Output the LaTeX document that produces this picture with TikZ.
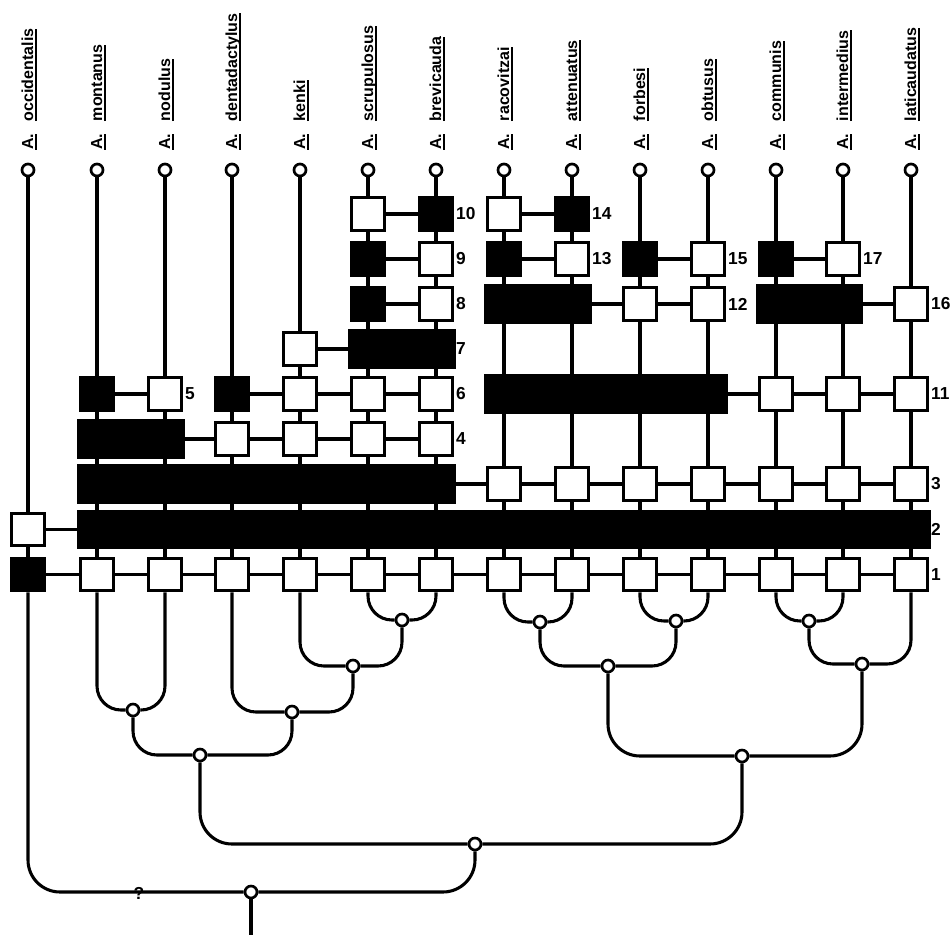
\documentclass[tikz,border=0pt]{standalone}
\usepackage{fontspec}
\setmainfont{Liberation Sans}

\newcommand{\ulbox}[1]{\setbox0=\hbox{#1}\rlap{\rule[-2.7pt]{\wd0}{1.4pt}}\box0}
\newcommand{\taxon}[1]{\ulbox{A.}\hspace{9.5pt}\ulbox{#1}}

\tikzset{
  taxlabel/.style={rotate=90, anchor=base west, inner sep=0pt, font=\bfseries\fontsize{12}{14}\selectfont},
  tip/.style={circle, draw, fill=white, line width=2pt, minimum size=9pt, inner sep=0pt},
  junction/.style={circle, draw, fill=white, line width=2pt, minimum size=9pt, inner sep=0pt},
  open/.style={rectangle, draw, fill=white, line width=2.4pt, minimum size=24.5pt, inner sep=0pt},
  shut/.style={open, fill=black},
  bar/.style={draw, fill=black, line width=2.4pt},
  charno/.style={anchor=west, inner sep=1.5pt, font=\bfseries\fontsize{13}{15}\selectfont},
  link/.style={line width=2.3pt},
  branch/.style={line width=2.3pt, rounded corners=18pt},
  bigbranch/.style={line width=2.3pt, rounded corners=24pt},
}

\begin{document}
\begin{tikzpicture}[x=0.75pt, y=-0.75pt]
        \useasboundingbox (0,0) rectangle (952,935);
        % species names and tips
        \node[taxlabel] (lbocc) at (33,150) {\taxon{occidentalis}};
        \node[taxlabel] (lbmon) at (102,150) {\taxon{montanus}};
        \node[taxlabel] (lbnod) at (170,150) {\taxon{nodulus}};
        \node[taxlabel] (lbden) at (237,150) {\taxon{dentadactylus}};
        \node[taxlabel] (lbken) at (305,150) {\taxon{kenki}};
        \node[taxlabel] (lbscr) at (373,150) {\taxon{scrupulosus}};
        \node[taxlabel] (lbbre) at (441,150) {\taxon{brevicauda}};
        \node[taxlabel] (lbrac) at (509,150) {\taxon{racovitzai}};
        \node[taxlabel] (lbatt) at (577,150) {\taxon{attenuatus}};
        \node[taxlabel] (lbforb) at (645,150) {\taxon{forbesi}};
        \node[taxlabel] (lbobt) at (713,150) {\taxon{obtusus}};
        \node[taxlabel] (lbcom) at (781,150) {\taxon{communis}};
        \node[taxlabel] (lbint) at (848,150) {\taxon{intermedius}};
        \node[taxlabel] (lblat) at (916,150) {\taxon{laticaudatus}};
        \node[tip] (tocc) at (28,170) {};
        \node[tip] (tmon) at (97,170) {};
        \node[tip] (tnod) at (165,170) {};
        \node[tip] (tden) at (232,170) {};
        \node[tip] (tken) at (300,170) {};
        \node[tip] (tscr) at (368,170) {};
        \node[tip] (tbre) at (436,170) {};
        \node[tip] (trac) at (504,170) {};
        \node[tip] (tatt) at (572,170) {};
        \node[tip] (tforb) at (640,170) {};
        \node[tip] (tobt) at (708,170) {};
        \node[tip] (tcom) at (776,170) {};
        \node[tip] (tint) at (843,170) {};
        \node[tip] (tlat) at (911,170) {};
        % character states
        \node[open] (occ2) at (28,529.5) {};
        \node[shut] (occ1) at (28,574.5) {};
        \node[shut] (mon5) at (97,394) {};
        \node[shut] (mon4) at (97,439) {};
        \node[shut] (mon3) at (97,484) {};
        \node[shut] (mon2) at (97,529.5) {};
        \node[open] (mon1) at (97,574.5) {};
        \node[open] (nod5) at (165,394) {};
        \node[shut] (nod4) at (165,439) {};
        \node[shut] (nod3) at (165,484) {};
        \node[shut] (nod2) at (165,529.5) {};
        \node[open] (nod1) at (165,574.5) {};
        \node[shut] (den6) at (232,394) {};
        \node[open] (den4) at (232,439) {};
        \node[shut] (den3) at (232,484) {};
        \node[shut] (den2) at (232,529.5) {};
        \node[open] (den1) at (232,574.5) {};
        \node[open] (ken7) at (300,349) {};
        \node[open] (ken6) at (300,394) {};
        \node[open] (ken4) at (300,439) {};
        \node[shut] (ken3) at (300,484) {};
        \node[shut] (ken2) at (300,529.5) {};
        \node[open] (ken1) at (300,574.5) {};
        \node[open] (scr10) at (368,214) {};
        \node[shut] (scr9) at (368,259) {};
        \node[shut] (scr8) at (368,304) {};
        \node[shut] (scr7) at (368,349) {};
        \node[open] (scr6) at (368,394) {};
        \node[open] (scr4) at (368,439) {};
        \node[shut] (scr3) at (368,484) {};
        \node[shut] (scr2) at (368,529.5) {};
        \node[open] (scr1) at (368,574.5) {};
        \node[shut] (bre10) at (436,214) {};
        \node[open] (bre9) at (436,259) {};
        \node[open] (bre8) at (436,304) {};
        \node[shut] (bre7) at (436,349) {};
        \node[open] (bre6) at (436,394) {};
        \node[open] (bre4) at (436,439) {};
        \node[shut] (bre3) at (436,484) {};
        \node[shut] (bre2) at (436,529.5) {};
        \node[open] (bre1) at (436,574.5) {};
        \node[open] (rac14) at (504,214) {};
        \node[shut] (rac13) at (504,259) {};
        \node[shut] (rac12) at (504,304) {};
        \node[shut] (rac11) at (504,394) {};
        \node[open] (rac3) at (504,484) {};
        \node[shut] (rac2) at (504,529.5) {};
        \node[open] (rac1) at (504,574.5) {};
        \node[shut] (att14) at (572,214) {};
        \node[open] (att13) at (572,259) {};
        \node[shut] (att12) at (572,304) {};
        \node[shut] (att11) at (572,394) {};
        \node[open] (att3) at (572,484) {};
        \node[shut] (att2) at (572,529.5) {};
        \node[open] (att1) at (572,574.5) {};
        \node[shut] (forb15) at (640,259) {};
        \node[open] (forb12) at (640,304) {};
        \node[shut] (forb11) at (640,394) {};
        \node[open] (forb3) at (640,484) {};
        \node[shut] (forb2) at (640,529.5) {};
        \node[open] (forb1) at (640,574.5) {};
        \node[open] (obt15) at (708,259) {};
        \node[open] (obt12) at (708,304) {};
        \node[shut] (obt11) at (708,394) {};
        \node[open] (obt3) at (708,484) {};
        \node[shut] (obt2) at (708,529.5) {};
        \node[open] (obt1) at (708,574.5) {};
        \node[shut] (com17) at (776,259) {};
        \node[shut] (com16) at (776,304) {};
        \node[open] (com11) at (776,394) {};
        \node[open] (com3) at (776,484) {};
        \node[shut] (com2) at (776,529.5) {};
        \node[open] (com1) at (776,574.5) {};
        \node[open] (int17) at (843,259) {};
        \node[shut] (int16) at (843,304) {};
        \node[open] (int11) at (843,394) {};
        \node[open] (int3) at (843,484) {};
        \node[shut] (int2) at (843,529.5) {};
        \node[open] (int1) at (843,574.5) {};
        \node[open] (lat16) at (911,304) {};
        \node[open] (lat11) at (911,394) {};
        \node[open] (lat3) at (911,484) {};
        \node[shut] (lat2) at (911,529.5) {};
        \node[open] (lat1) at (911,574.5) {};
        % shared derived states
        \draw[bar] (mon2.north west) rectangle (lat2.south east);
        \draw[bar] (mon3.north west) rectangle (bre3.south east);
        \draw[bar] (mon4.north west) rectangle (nod4.south east);
        \draw[bar] (scr7.north west) rectangle (bre7.south east);
        \draw[bar] (rac11.north west) rectangle (obt11.south east);
        \draw[bar] (rac12.north west) rectangle (att12.south east);
        \draw[bar] (com16.north west) rectangle (int16.south east);
        % lineages
        \draw[link] (tocc) -- (occ2) -- (occ1);
        \draw[link] (tmon) -- (mon5) -- (mon4) -- (mon3) -- (mon2) -- (mon1);
        \draw[link] (tnod) -- (nod5) -- (nod4) -- (nod3) -- (nod2) -- (nod1);
        \draw[link] (tden) -- (den6) -- (den4) -- (den3) -- (den2) -- (den1);
        \draw[link] (tken) -- (ken7) -- (ken6) -- (ken4) -- (ken3) -- (ken2) -- (ken1);
        \draw[link] (tscr) -- (scr10) -- (scr9) -- (scr8) -- (scr7) -- (scr6) -- (scr4) -- (scr3) -- (scr2) -- (scr1);
        \draw[link] (tbre) -- (bre10) -- (bre9) -- (bre8) -- (bre7) -- (bre6) -- (bre4) -- (bre3) -- (bre2) -- (bre1);
        \draw[link] (trac) -- (rac14) -- (rac13) -- (rac12) -- (rac11) -- (rac3) -- (rac2) -- (rac1);
        \draw[link] (tatt) -- (att14) -- (att13) -- (att12) -- (att11) -- (att3) -- (att2) -- (att1);
        \draw[link] (tforb) -- (forb15) -- (forb12) -- (forb11) -- (forb3) -- (forb2) -- (forb1);
        \draw[link] (tobt) -- (obt15) -- (obt12) -- (obt11) -- (obt3) -- (obt2) -- (obt1);
        \draw[link] (tcom) -- (com17) -- (com16) -- (com11) -- (com3) -- (com2) -- (com1);
        \draw[link] (tint) -- (int17) -- (int16) -- (int11) -- (int3) -- (int2) -- (int1);
        \draw[link] (tlat) -- (lat16) -- (lat11) -- (lat3) -- (lat2) -- (lat1);
        % characters
        \draw[link] (occ1) -- (mon1) -- (nod1) -- (den1) -- (ken1) -- (scr1) -- (bre1) -- (rac1) -- (att1) -- (forb1) -- (obt1) -- (com1) -- (int1) -- (lat1);
        \draw[link] (occ2) -- (mon2);
        \draw[link] (bre3) -- (rac3) -- (att3) -- (forb3) -- (obt3) -- (com3) -- (int3) -- (lat3);
        \draw[link] (nod4) -- (den4) -- (ken4) -- (scr4) -- (bre4);
        \draw[link] (mon5) -- (nod5);
        \draw[link] (den6) -- (ken6) -- (scr6) -- (bre6);
        \draw[link] (ken7) -- (scr7);
        \draw[link] (scr8) -- (bre8);
        \draw[link] (scr9) -- (bre9);
        \draw[link] (scr10) -- (bre10);
        \draw[link] (obt11) -- (com11) -- (int11) -- (lat11);
        \draw[link] (att12) -- (forb12) -- (obt12);
        \draw[link] (rac13) -- (att13);
        \draw[link] (rac14) -- (att14);
        \draw[link] (forb15) -- (obt15);
        \draw[link] (int16) -- (lat16);
        \draw[link] (com17) -- (int17);
        \node[charno] (no1) at (lat1.east) {1};
        \node[charno] (no2) at (lat2.east) {2};
        \node[charno] (no3) at (lat3.east) {3};
        \node[charno] (no4) at (bre4.east) {4};
        \node[charno] (no5) at (nod5.east) {5};
        \node[charno] (no6) at (bre6.east) {6};
        \node[charno] (no7) at (bre7.east) {7};
        \node[charno] (no8) at (bre8.east) {8};
        \node[charno] (no9) at (bre9.east) {9};
        \node[charno] (no10) at (bre10.east) {10};
        \node[charno] (no11) at (lat11.east) {11};
        \node[charno] (no12) at (obt12.east) {12};
        \node[charno] (no13) at (att13.east) {13};
        \node[charno] (no14) at (att14.east) {14};
        \node[charno] (no15) at (obt15.east) {15};
        \node[charno] (no16) at (lat16.east) {16};
        \node[charno] (no17) at (int17.east) {17};
        % cladogram
        \node[junction] (scbr) at (402,620) {};
        \node[junction] (kesb) at (353,666) {};
        \node[junction] (desb) at (292,712) {};
        \node[junction] (mono) at (133,710) {};
        \node[junction] (west) at (200,755) {};
        \node[junction] (raat) at (540,622) {};
        \node[junction] (fobt) at (676,621) {};
        \node[junction] (rafo) at (608,666) {};
        \node[junction] (coin) at (809,621) {};
        \node[junction] (coil) at (862,664) {};
        \node[junction] (east) at (742,756) {};
        \node[junction] (ingr) at (475,844) {};
        \node[junction] (root) at (251,892) {};
        \coordinate (base) at (251,935);
        \draw[branch] (scr1) |- (scbr);
        \draw[branch] (bre1) |- (scbr);
        \draw[branch] (ken1) |- (kesb);
        \draw[branch] (scbr) |- (kesb);
        \draw[branch] (den1) |- (desb);
        \draw[branch] (kesb) |- (desb);
        \draw[branch] (mon1) |- (mono);
        \draw[branch] (nod1) |- (mono);
        \draw[branch] (mono) |- (west);
        \draw[branch] (desb) |- (west);
        \draw[branch] (rac1) |- (raat);
        \draw[branch] (att1) |- (raat);
        \draw[branch] (forb1) |- (fobt);
        \draw[branch] (obt1) |- (fobt);
        \draw[branch] (raat) |- (rafo);
        \draw[branch] (fobt) |- (rafo);
        \draw[branch] (com1) |- (coin);
        \draw[branch] (int1) |- (coin);
        \draw[branch] (coin) |- (coil);
        \draw[branch] (lat1) |- (coil);
        \draw[bigbranch] (rafo) |- (east);
        \draw[bigbranch] (coil) |- (east);
        \draw[bigbranch] (west) |- (ingr);
        \draw[bigbranch] (east) |- (ingr);
        \draw[bigbranch] (occ1) |- (root);
        \draw[bigbranch] (ingr) |- (root);
        \draw[link] (root) -- (base);
        \node[font=\bfseries\fontsize{13}{15}\selectfont, inner sep=0pt] (unk) at (139,893) {?};
\end{tikzpicture}
\end{document}
